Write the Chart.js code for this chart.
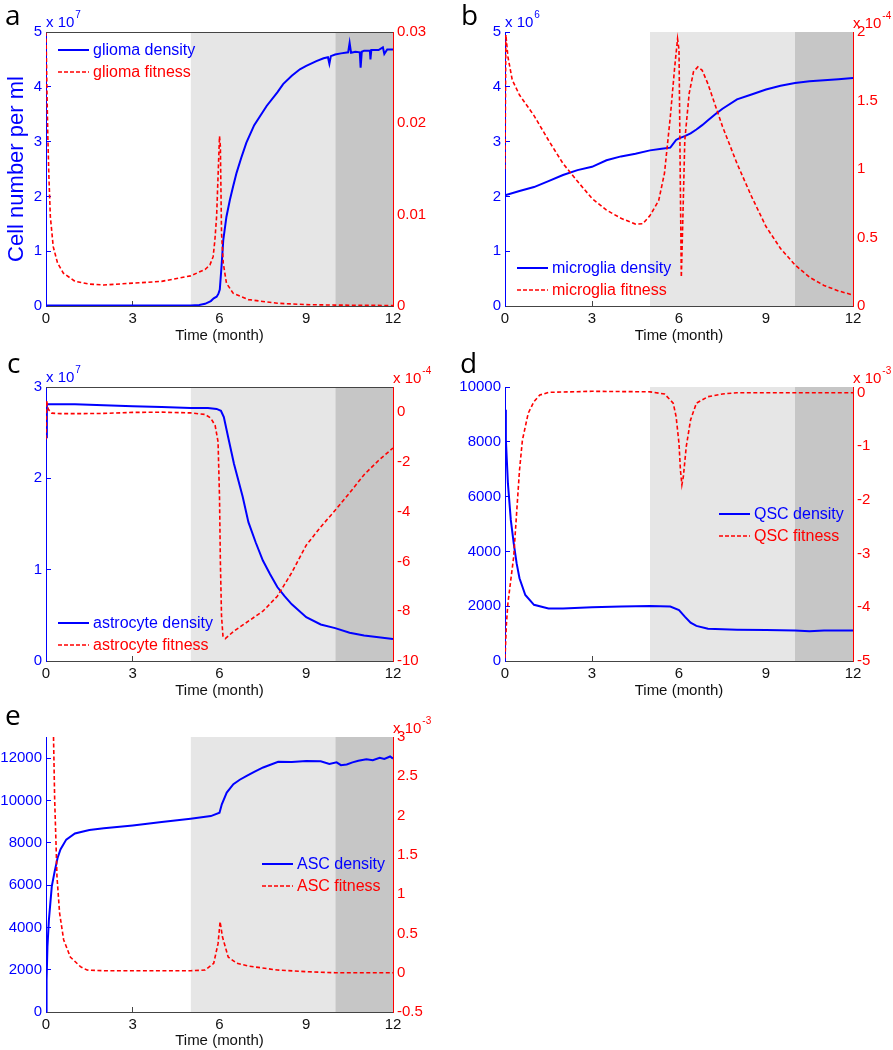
<!DOCTYPE html>
<html><head><meta charset="utf-8">
<script src="https://cdn.jsdelivr.net/npm/chart.js@4.4.1/dist/chart.umd.min.js"></script>
<style>
html,body{margin:0;padding:0;background:#fff;}
body{width:893px;height:1050px;position:relative;overflow:hidden;}
canvas{position:absolute;}
</style></head><body>
<canvas id="pa"></canvas>
<canvas id="pb"></canvas>
<canvas id="pc"></canvas>
<canvas id="pd"></canvas>
<canvas id="pe"></canvas>
<script>
// ---------------- data ----------------
const TIME_TICKS = [0, 3, 6, 9, 12];
const SHADE_LIGHT_X = [5, 10];
const SHADE_DARK_X = [10, 12];

// a: glioma (density x1e7, fitness)
const A_LEFT_TICKS = [0, 1, 2, 3, 4, 5];
const A_RIGHT_TICKS = [0, 0.01, 0.02, 0.03];
const GLIOMA_DENSITY_T = [0, 5.0, 5.3, 5.5, 5.7, 5.8, 5.9, 5.96, 6.01, 6.07, 6.13, 6.24, 6.36, 6.47, 6.59, 6.75, 6.93, 7.2, 7.63, 8.0, 8.2, 8.5, 8.78, 9.0, 9.35, 9.6, 9.75, 9.8, 9.85, 10.0, 10.2, 10.45, 10.5, 10.55, 10.7, 10.85, 10.88, 10.92, 11.0, 11.2, 11.22, 11.25, 11.5, 11.65, 11.7, 11.8, 12];
const GLIOMA_DENSITY = [0.01, 0.01, 0.02, 0.04, 0.09, 0.14, 0.17, 0.22, 0.3, 0.72, 1.2, 1.63, 1.94, 2.18, 2.43, 2.7, 2.98, 3.3, 3.65, 3.9, 4.05, 4.2, 4.32, 4.38, 4.47, 4.52, 4.54, 4.42, 4.56, 4.59, 4.61, 4.63, 4.8, 4.62, 4.64, 4.63, 4.35, 4.64, 4.66, 4.66, 4.5, 4.67, 4.67, 4.72, 4.6, 4.68, 4.68];
const GLIOMA_FITNESS_T = [0, 0.03, 0.06, 0.1, 0.15, 0.25, 0.4, 0.6, 1.0, 1.5, 2.0, 3.0, 4.0, 5.0, 5.5, 5.67, 5.78, 5.84, 5.9, 5.95, 6.0, 6.03, 6.07, 6.13, 6.24, 6.47, 7.0, 7.5, 8.0, 9.0, 10.0, 12];
const GLIOMA_FITNESS = [0.03, 0.024, 0.019, 0.0142, 0.0098, 0.0065, 0.0047, 0.0036, 0.0027, 0.0024, 0.0023, 0.0025, 0.0027, 0.0033, 0.004, 0.0045, 0.0054, 0.0072, 0.0098, 0.0142, 0.0186, 0.0175, 0.008, 0.0047, 0.0025, 0.0014, 0.0007, 0.0005, 0.0003, 0.00015, 0.0001, 0.00005];

// b: microglia (density x1e6, fitness x1e-4)
const B_LEFT_TICKS = [0, 1, 2, 3, 4, 5];
const B_RIGHT_TICKS = [0, 0.5, 1, 1.5, 2];
const MICROGLIA_DENSITY_T = [0, 0.5, 1, 1.5, 2, 2.5, 3, 3.5, 4, 4.5, 5, 5.4, 5.7, 5.9, 6.0, 6.2, 6.4, 6.6, 6.8, 7.0, 7.25, 7.5, 8.0, 8.5, 9.0, 9.5, 10, 10.5, 11, 11.5, 12];
const MICROGLIA_DENSITY = [2.02, 2.1, 2.17, 2.28, 2.39, 2.48, 2.54, 2.66, 2.73, 2.78, 2.84, 2.87, 2.89, 3.03, 3.06, 3.1, 3.15, 3.22, 3.3, 3.39, 3.5, 3.6, 3.77, 3.86, 3.95, 4.02, 4.07, 4.1, 4.12, 4.14, 4.16];
const MICROGLIA_FITNESS_T = [0, 0.03, 0.1, 0.25, 0.5, 1, 1.5, 2, 2.5, 3, 3.5, 4, 4.5, 4.75, 5, 5.3, 5.5, 5.7, 5.85, 5.95, 6.0, 6.04, 6.08, 6.12, 6.2, 6.35, 6.5, 6.65, 6.8, 7, 7.5, 8, 8.5, 9, 9.5, 10, 10.5, 11, 11.5, 12];
const MICROGLIA_FITNESS = [1.0, 1.98, 1.82, 1.65, 1.54, 1.39, 1.21, 1.04, 0.91, 0.785, 0.70, 0.64, 0.598, 0.60, 0.66, 0.77, 0.97, 1.38, 1.74, 1.95, 1.87, 1.02, 0.21, 0.53, 1.21, 1.55, 1.71, 1.745, 1.72, 1.62, 1.31, 1.04, 0.80, 0.58, 0.42, 0.30, 0.21, 0.15, 0.11, 0.08];

// c: astrocyte (density x1e7, fitness x1e-4)
const C_LEFT_TICKS = [0, 1, 2, 3];
const C_RIGHT_TICKS = [-10, -8, -6, -4, -2, 0];
const ASTRO_DENSITY_T = [0, 0.03, 1, 2, 3, 4, 5, 5.6, 5.9, 6.05, 6.15, 6.3, 6.5, 6.8, 7, 7.25, 7.5, 7.75, 8, 8.25, 8.5, 9, 9.5, 10, 10.5, 11, 11.5, 12];
const ASTRO_DENSITY = [2.45, 2.81, 2.81, 2.80, 2.79, 2.78, 2.77, 2.77, 2.76, 2.74, 2.67, 2.45, 2.16, 1.8, 1.52, 1.3, 1.10, 0.95, 0.81, 0.71, 0.62, 0.48, 0.40, 0.36, 0.31, 0.28, 0.26, 0.24];
const ASTRO_FITNESS_T = [0, 0.02, 0.08, 0.2, 0.5, 1, 2, 3, 4, 5, 5.5, 5.7, 5.85, 5.95, 6.0, 6.03, 6.07, 6.12, 6.2, 6.5, 7, 7.5, 8, 8.5, 9, 9.5, 10, 10.5, 11, 11.5, 12];
const ASTRO_FITNESS = [-1.1, 0.45, 0.1, -0.05, -0.07, -0.07, -0.06, -0.02, -0.01, -0.04, -0.1, -0.25, -0.55, -1.2, -3.4, -6, -8.2, -9.0, -9.1, -8.8, -8.4, -8.0, -7.4, -6.45, -5.35, -4.62, -3.95, -3.25, -2.52, -1.95, -1.45];

// d: QSC (density, fitness x1e-3)
const D_LEFT_TICKS = [0, 2000, 4000, 6000, 8000, 10000];
const D_RIGHT_TICKS = [-5, -4, -3, -2, -1, 0];
const QSC_DENSITY_T = [0, 0.03, 0.1, 0.2, 0.3, 0.4, 0.5, 0.7, 1.0, 1.5, 2, 3, 4, 5, 5.7, 6, 6.2, 6.4, 6.6, 7, 8, 9, 10, 10.5, 11, 12];
const QSC_DENSITY = [9170, 8080, 6490, 5150, 4300, 3570, 3020, 2410, 2050, 1920, 1920, 1960, 1985, 2010, 1985, 1860, 1620, 1400, 1280, 1180, 1145, 1130, 1110, 1090, 1110, 1110];
const QSC_FITNESS_T = [0, 0.05, 0.1, 0.2, 0.3, 0.4, 0.5, 0.6, 0.7, 0.8, 1.0, 1.2, 1.5, 3, 5, 5.5, 5.8, 5.9, 6.0, 6.05, 6.1, 6.15, 6.25, 6.4, 6.6, 7, 7.5, 8, 12];
const QSC_FITNESS = [-4.95, -4.3, -3.93, -3.49, -3.06, -2.25, -1.45, -0.89, -0.64, -0.39, -0.17, -0.05, 0, 0.02, 0.01, -0.03, -0.2, -0.45, -0.95, -1.45, -1.72, -1.57, -1.01, -0.51, -0.2, -0.08, -0.03, -0.006, -0.006];

// e: ASC (density, fitness x1e-3)
const E_LEFT_TICKS = [0, 2000, 4000, 6000, 8000, 10000, 12000];
const E_RIGHT_TICKS = [-0.5, 0, 0.5, 1, 1.5, 2, 2.5, 3];
const ASC_DENSITY_T = [0, 0.02, 0.05, 0.1, 0.2, 0.3, 0.4, 0.5, 0.7, 1.0, 1.5, 2, 3, 4, 5, 5.7, 6.0, 6.08, 6.25, 6.48, 6.7, 6.94, 7.2, 7.51, 8.03, 8.5, 9, 9.5, 9.8, 10.05, 10.2, 10.4, 10.6, 10.8, 11.08, 11.3, 11.54, 11.7, 11.9, 12];
const ASC_DENSITY = [0, 1500, 3090, 4350, 5940, 6650, 7280, 7680, 8150, 8440, 8600, 8690, 8820, 8980, 9140, 9260, 9420, 9820, 10370, 10770, 10980, 11160, 11350, 11560, 11830, 11820, 11860, 11850, 11720, 11800, 11670, 11700, 11800, 11880, 11950, 11900, 12020, 11960, 12080, 11980];
const ASC_FITNESS_T = [0.26, 0.3, 0.35, 0.38, 0.47, 0.61, 0.84, 1.19, 1.42, 2, 3, 4, 5, 5.5, 5.8, 5.95, 6.02, 6.1, 6.3, 6.6, 7, 8, 9, 10, 12];
const ASC_FITNESS = [3.0, 2.2, 1.6, 1.22, 0.76, 0.42, 0.2, 0.077, 0.034, 0.025, 0.025, 0.025, 0.025, 0.034, 0.12, 0.37, 0.65, 0.46, 0.2, 0.12, 0.085, 0.034, 0.013, 0, 0];

// ---------------- drawing ----------------
const BLUE = '#0000ff', RED = '#ff0000', AXIS = '#444444', LIGHT = '#e6e6e6', DARK = '#c6c6c6';
Chart.defaults.font.family = '"Liberation Sans", Arial, sans-serif';

function pts(t, v) { return t.map((x, i) => ({x: x, y: v[i]})); }
function tickSetter(arr) { return s => { s.ticks = arr.map(v => ({value: v})); }; }

const overlay = {
  id: 'overlay',
  afterDraw(chart, args, o) {
    const ctx = chart.ctx, ca = chart.chartArea;
    ctx.save();
    if (o.topBorder) {
      ctx.strokeStyle = AXIS; ctx.lineWidth = 1;
      ctx.beginPath(); ctx.moveTo(ca.left, Math.round(ca.top) + 0.5); ctx.lineTo(ca.right, Math.round(ca.top) + 0.5); ctx.stroke();
    }
    ctx.textAlign = 'left'; ctx.textBaseline = 'alphabetic';
    ctx.fillStyle = '#000'; ctx.font = '28px "Open Sans", sans-serif';
    ctx.fillText(o.letter, o.letterX, o.letterY);
    function expo(x, y, e, color) {
      ctx.fillStyle = color; ctx.font = '15px "Liberation Sans", Arial, sans-serif';
      ctx.fillText('x 10', x, y);
      const w = ctx.measureText('x 10').width;
      ctx.font = '10px "Liberation Sans", Arial, sans-serif';
      ctx.fillText(e, x + w + 1, y - 9);
    }
    if (o.expLeft) expo(ca.left, ca.top - 5, o.expLeft, BLUE);
    if (o.expRight) expo(ca.right, ca.top - 4, o.expRight, RED);
    const items = [{text: o.legend[0], color: BLUE, dash: [], w: 2}, {text: o.legend[1], color: RED, dash: [4, 2], w: 1.6}];
    items.forEach((it, i) => {
      const y = ca.top + o.legY + i * 22, x = ca.left + o.legX;
      ctx.strokeStyle = it.color; ctx.lineWidth = it.w; ctx.setLineDash(it.dash);
      ctx.beginPath(); ctx.moveTo(x, y); ctx.lineTo(x + 31, y); ctx.stroke();
      ctx.setLineDash([]);
      ctx.fillStyle = it.color; ctx.font = '16px "Liberation Sans", Arial, sans-serif';
      ctx.textBaseline = 'middle';
      ctx.fillText(it.text, x + 35, y + 1);
      ctx.textBaseline = 'alphabetic';
    });
    ctx.restore();
  }
};

function makePanel(p) {
  const canvas = document.getElementById(p.id);
  canvas.width = p.cw; canvas.height = p.ch;
  canvas.style.left = p.cx + 'px'; canvas.style.top = p.cy + 'px';
  canvas.style.width = p.cw + 'px'; canvas.style.height = p.ch + 'px';
  const leftW = p.L - p.cx, rightW = p.cx + p.cw - p.R, bottomH = p.cy + p.ch - p.B, padTop = p.T - p.cy;
  const shade = (xs, col) => ({data: pts(xs, [p.yMax, p.yMax]), yAxisID: 'y', borderColor: 'rgba(0,0,0,0)', borderWidth: 0, pointRadius: 0, backgroundColor: col, fill: 'start', order: 5, tension: 0});
  new Chart(canvas, {
    type: 'line',
    data: {datasets: [
      shade(SHADE_LIGHT_X, LIGHT),
      shade(SHADE_DARK_X, DARK),
      {data: p.dens, yAxisID: 'y', borderColor: BLUE, borderWidth: 2, pointRadius: 0, tension: 0, fill: false, order: 1},
      {data: p.fit, yAxisID: 'y2', borderColor: RED, borderWidth: 1.6, borderDash: [4, 2.5], pointRadius: 0, tension: 0, fill: false, order: 0}
    ]},
    options: {
      responsive: false, animation: false, devicePixelRatio: 1, events: [],
      layout: {padding: {left: 0, right: 0, top: padTop, bottom: 0}},
      plugins: {legend: {display: false}, tooltip: {enabled: false}, overlay: p},
      scales: {
        x: {type: 'linear', position: 'bottom', min: 0, max: 12,
          afterBuildTicks: tickSetter(TIME_TICKS), afterFit: s => { s.height = bottomH; },
          grid: {drawOnChartArea: false, color: AXIS, tickLength: -5},
          border: {color: AXIS, width: 1},
          ticks: {color: '#111', font: {size: 15}, padding: 9, maxRotation: 0, autoSkip: false, callback: v => String(v)},
          title: {display: true, text: 'Time (month)', color: '#111', font: {size: 15}, padding: {top: 0, bottom: 0}}},
        y: {type: 'linear', position: 'left', min: p.yMin, max: p.yMax,
          afterBuildTicks: tickSetter(p.leftTicks), afterFit: s => { s.width = leftW; },
          grid: {drawOnChartArea: false, color: BLUE, tickLength: -5},
          border: {color: BLUE, width: 1},
          ticks: {color: BLUE, font: {size: 15}, padding: 9, autoSkip: false, callback: v => String(v)},
          title: {display: !!p.yTitle, text: p.yTitle || '', color: BLUE, font: {size: 22}, padding: {top: 4, bottom: 0}}},
        y2: {type: 'linear', position: 'right', min: p.y2Min, max: p.y2Max,
          afterBuildTicks: tickSetter(p.rightTicks), afterFit: s => { s.width = rightW; },
          grid: {drawOnChartArea: false, color: RED, tickLength: -5},
          border: {color: RED, width: 1},
          ticks: {color: RED, font: {size: 15}, padding: 9, autoSkip: false, callback: v => String(v)}}
      }
    },
    plugins: [overlay]
  });
}

makePanel({id: 'pa', cx: 0, cy: 0, cw: 446, ch: 345, L: 46, T: 32, R: 393, B: 306,
  yMin: 0, yMax: 5, y2Min: 0, y2Max: 0.03, leftTicks: A_LEFT_TICKS, rightTicks: A_RIGHT_TICKS,
  dens: pts(GLIOMA_DENSITY_T, GLIOMA_DENSITY), fit: pts(GLIOMA_FITNESS_T, GLIOMA_FITNESS),
  letter: 'a', letterX: 5, letterY: 25, expLeft: '7', expRight: null, topBorder: true,
  legend: ['glioma density', 'glioma fitness'], legX: 12, legY: 18, yTitle: 'Cell number per ml'});

makePanel({id: 'pb', cx: 446, cy: 0, cw: 447, ch: 345, L: 505, T: 32, R: 853, B: 306,
  yMin: 0, yMax: 5, y2Min: 0, y2Max: 2, leftTicks: B_LEFT_TICKS, rightTicks: B_RIGHT_TICKS,
  dens: pts(MICROGLIA_DENSITY_T, MICROGLIA_DENSITY), fit: pts(MICROGLIA_FITNESS_T, MICROGLIA_FITNESS),
  letter: 'b', letterX: 15, letterY: 25, expLeft: '6', expRight: '-4', topBorder: false,
  legend: ['microglia density', 'microglia fitness'], legX: 12, legY: 236});

makePanel({id: 'pc', cx: 0, cy: 350, cw: 446, ch: 350, L: 46, T: 387, R: 393, B: 661,
  yMin: 0, yMax: 3, y2Min: -10, y2Max: 1, leftTicks: C_LEFT_TICKS, rightTicks: C_RIGHT_TICKS,
  dens: pts(ASTRO_DENSITY_T, ASTRO_DENSITY), fit: pts(ASTRO_FITNESS_T, ASTRO_FITNESS),
  letter: 'c', letterX: 7, letterY: 23, expLeft: '7', expRight: '-4', topBorder: true,
  legend: ['astrocyte density', 'astrocyte fitness'], legX: 12, legY: 236});

makePanel({id: 'pd', cx: 446, cy: 350, cw: 447, ch: 350, L: 505, T: 387, R: 853, B: 661,
  yMin: 0, yMax: 10000, y2Min: -5, y2Max: 0.1, leftTicks: D_LEFT_TICKS, rightTicks: D_RIGHT_TICKS,
  dens: pts(QSC_DENSITY_T, QSC_DENSITY), fit: pts(QSC_FITNESS_T, QSC_FITNESS),
  letter: 'd', letterX: 14, letterY: 23, expLeft: null, expRight: '-3', topBorder: false,
  legend: ['QSC density', 'QSC fitness'], legX: 214, legY: 127});

makePanel({id: 'pe', cx: 0, cy: 700, cw: 446, ch: 350, L: 46, T: 737, R: 393, B: 1012,
  yMin: 0, yMax: 13000, y2Min: -0.5, y2Max: 3, leftTicks: E_LEFT_TICKS, rightTicks: E_RIGHT_TICKS,
  dens: pts(ASC_DENSITY_T, ASC_DENSITY), fit: pts(ASC_FITNESS_T, ASC_FITNESS),
  letter: 'e', letterX: 5, letterY: 25, expLeft: null, expRight: '-3', topBorder: false,
  legend: ['ASC density', 'ASC fitness'], legX: 216, legY: 127});
</script>
</body></html>
